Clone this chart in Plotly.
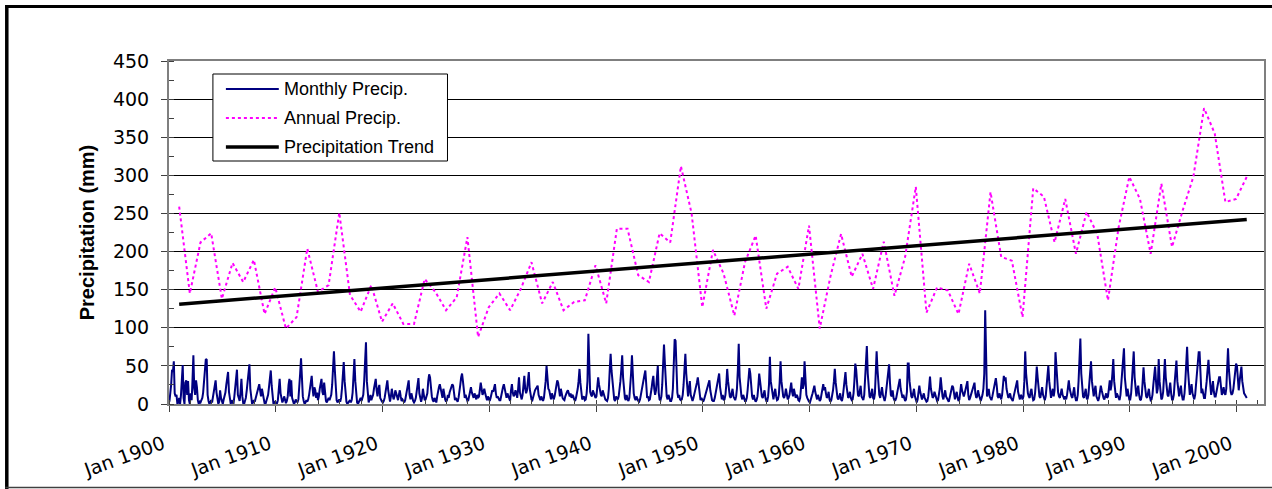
import plotly.graph_objects as go

# ---------------- data ----------------
years = list(range(1900, 2001))

# monthly precipitation (mm), one row per year Jan..Dec
monthly_rows = [
    [3, 12, 25, 45, 42, 56, 14, 10, 12, 0, 2, 8],        # 1900
    [0, 12, 30, 51, 8, 0, 28, 31, 12, 30, 5, 0],
    [14, 5, 30, 64, 20, 12, 31, 22, 5, 0, 3, 2],
    [5, 8, 15, 30, 45, 59, 58, 12, 4, 0, 2, 5],
    [2, 10, 20, 28, 31, 15, 6, 0, 3, 18, 8, 2],
    [0, 6, 10, 15, 25, 35, 42, 16, 3, 0, 5, 2],
    [0, 10, 22, 38, 45, 12, 8, 4, 16, 33, 10, 1],
    [0, 3, 8, 18, 30, 45, 52, 20, 7, 0, 2, 5],
    [3, 8, 14, 20, 22, 26, 18, 10, 20, 14, 4, 1],
    [0, 5, 10, 12, 22, 30, 44, 24, 8, 0, 2, 3],
    [0, 1, 5, 22, 33, 14, 6, 2, 5, 10, 6, 1],            # 1910
    [4, 10, 25, 33, 10, 31, 8, 3, 0, 2, 6, 4],
    [2, 6, 18, 40, 60, 30, 10, 4, 0, 2, 5, 3],
    [6, 12, 20, 30, 37, 20, 10, 22, 18, 8, 15, 5],
    [10, 20, 28, 33, 16, 12, 28, 10, 4, 2, 6, 8],
    [5, 8, 12, 25, 50, 69, 45, 12, 5, 2, 4, 6],
    [3, 8, 20, 38, 55, 30, 10, 3, 0, 2, 4, 5],
    [2, 6, 15, 35, 59, 30, 8, 2, 0, 3, 5, 8],
    [4, 8, 12, 30, 50, 81, 30, 10, 2, 6, 12, 5],
    [8, 12, 20, 30, 33, 18, 10, 20, 25, 8, 5, 3],
    [2, 4, 8, 15, 25, 31, 18, 8, 3, 10, 20, 12],         # 1920
    [6, 10, 18, 14, 8, 5, 12, 18, 10, 4, 6, 3],
    [2, 5, 10, 18, 22, 31, 12, 6, 14, 8, 4, 2],
    [4, 8, 15, 26, 34, 14, 6, 3, 8, 20, 12, 5],
    [6, 10, 14, 30, 39, 35, 20, 10, 5, 3, 8, 4],
    [2, 10, 18, 22, 26, 20, 12, 8, 20, 12, 6, 3],
    [5, 12, 8, 15, 20, 22, 26, 24, 10, 5, 8, 4],
    [3, 8, 14, 25, 35, 40, 30, 16, 8, 12, 6, 4],
    [5, 10, 18, 22, 15, 12, 8, 14, 10, 6, 12, 8],
    [10, 18, 28, 20, 12, 15, 20, 14, 8, 5, 10, 6],
    [4, 8, 12, 18, 16, 22, 26, 14, 8, 10, 6, 5],         # 1930
    [5, 12, 18, 22, 26, 20, 12, 8, 14, 10, 6, 4],
    [18, 26, 15, 10, 12, 18, 14, 8, 20, 35, 15, 8],
    [6, 12, 25, 37, 20, 14, 18, 30, 42, 20, 10, 6],
    [5, 10, 14, 18, 20, 22, 24, 12, 8, 5, 10, 6],
    [4, 8, 18, 30, 50, 35, 20, 18, 10, 6, 14, 8],
    [6, 10, 16, 24, 31, 28, 14, 10, 20, 12, 8, 6],
    [5, 10, 14, 16, 18, 12, 10, 14, 8, 12, 10, 6],
    [4, 8, 12, 20, 30, 46, 28, 14, 6, 8, 10, 5],
    [6, 14, 30, 92, 30, 16, 12, 10, 18, 14, 10, 8],
    [10, 20, 35, 25, 16, 12, 10, 18, 14, 8, 6, 5],       # 1940
    [4, 8, 20, 45, 66, 44, 30, 12, 6, 4, 10, 8],
    [6, 10, 18, 30, 45, 64, 35, 16, 8, 5, 12, 6],
    [4, 8, 20, 40, 64, 31, 14, 8, 5, 10, 6, 4],
    [3, 6, 12, 20, 25, 30, 38, 44, 20, 8, 10, 5],
    [6, 12, 20, 30, 37, 20, 12, 18, 35, 50, 15, 6],
    [5, 10, 25, 50, 78, 53, 20, 10, 6, 12, 8, 4],
    [4, 8, 20, 45, 85, 83, 40, 15, 8, 12, 6, 5],
    [6, 12, 25, 45, 66, 40, 18, 10, 20, 30, 12, 6],
    [4, 8, 12, 18, 22, 28, 35, 25, 10, 5, 8, 4],
    [3, 6, 10, 15, 20, 25, 28, 31, 18, 8, 5, 4],         # 1950
    [4, 8, 14, 20, 28, 35, 40, 22, 10, 6, 12, 5],
    [6, 12, 25, 46, 30, 18, 10, 8, 14, 20, 10, 6],
    [5, 10, 20, 45, 79, 35, 16, 10, 6, 12, 8, 4],
    [4, 8, 18, 35, 47, 40, 18, 10, 6, 12, 6, 3],
    [5, 10, 22, 40, 30, 16, 10, 8, 12, 18, 8, 4],
    [4, 10, 25, 62, 30, 20, 10, 6, 14, 20, 10, 5],
    [6, 12, 28, 56, 30, 18, 10, 8, 12, 20, 14, 6],
    [8, 12, 20, 28, 16, 10, 20, 14, 8, 12, 10, 5],
    [4, 8, 20, 35, 20, 25, 56, 30, 12, 8, 5, 3],
    [2, 5, 10, 14, 18, 24, 16, 10, 6, 12, 8, 4],         # 1960
    [6, 12, 20, 26, 18, 22, 14, 8, 10, 16, 6, 3],
    [5, 10, 18, 30, 46, 28, 12, 8, 6, 10, 14, 6],
    [4, 10, 20, 32, 42, 25, 12, 8, 10, 16, 8, 5],
    [6, 14, 30, 53, 45, 25, 12, 10, 18, 24, 10, 6],
    [5, 12, 30, 55, 76, 40, 18, 10, 8, 14, 20, 8],
    [6, 14, 35, 69, 45, 22, 12, 8, 15, 22, 12, 6],
    [4, 10, 20, 30, 40, 52, 28, 12, 10, 18, 8, 5],
    [5, 8, 14, 22, 28, 33, 20, 10, 8, 12, 6, 4],
    [6, 16, 53, 53, 30, 15, 10, 8, 14, 20, 10, 6],
    [2, 6, 12, 24, 16, 10, 6, 10, 14, 8, 5, 3],          # 1970
    [4, 10, 22, 36, 20, 12, 8, 10, 16, 12, 6, 4],
    [5, 12, 20, 35, 18, 10, 6, 12, 18, 10, 8, 5],
    [3, 8, 14, 18, 24, 22, 10, 6, 12, 16, 8, 4],
    [6, 14, 26, 18, 12, 10, 14, 20, 25, 30, 12, 5],
    [8, 12, 16, 20, 24, 28, 14, 8, 10, 18, 12, 6],
    [4, 8, 12, 20, 40, 123, 30, 10, 14, 20, 10, 6],
    [5, 10, 15, 20, 28, 34, 24, 10, 8, 14, 10, 6],
    [12, 25, 37, 30, 35, 20, 12, 8, 10, 14, 8, 5],
    [4, 10, 16, 20, 25, 31, 16, 8, 6, 12, 10, 6],
    [10, 30, 69, 40, 25, 14, 10, 8, 16, 20, 10, 5],      # 1980
    [6, 14, 28, 49, 35, 18, 10, 8, 14, 22, 12, 6],
    [5, 10, 22, 38, 50, 30, 12, 8, 14, 20, 10, 18],
    [68, 46, 25, 15, 10, 8, 14, 20, 12, 8, 6, 10],
    [6, 12, 22, 31, 20, 14, 10, 8, 16, 22, 10, 5],
    [5, 12, 30, 55, 86, 40, 18, 10, 8, 14, 20, 8],
    [6, 12, 25, 40, 56, 30, 14, 10, 18, 24, 10, 5],
    [4, 8, 14, 24, 18, 12, 8, 6, 10, 14, 8, 10],
    [20, 31, 18, 25, 40, 59, 30, 12, 8, 14, 10, 6],
    [5, 12, 25, 45, 60, 73, 35, 14, 10, 20, 12, 6],
    [6, 14, 30, 50, 69, 35, 15, 10, 18, 24, 12, 6],      # 1990
    [5, 12, 28, 48, 30, 18, 10, 8, 14, 20, 10, 5],
    [6, 12, 25, 40, 49, 30, 14, 20, 59, 30, 12, 6],
    [8, 16, 35, 59, 35, 18, 12, 10, 20, 28, 14, 6],
    [6, 12, 28, 45, 57, 30, 14, 10, 18, 24, 12, 6],
    [6, 14, 30, 55, 75, 44, 20, 12, 18, 26, 14, 8],
    [6, 12, 25, 40, 55, 68, 68, 30, 14, 20, 12, 8],
    [8, 16, 30, 45, 58, 40, 18, 12, 20, 30, 16, 10],
    [10, 18, 25, 30, 35, 35, 20, 12, 16, 22, 14, 12],
    [20, 40, 73, 45, 25, 16, 12, 14, 20, 30, 40, 53],
    [50, 25, 18, 30, 40, 49, 30, 20, 14, 12, 10, 8],     # 2000
]

# annual precipitation (mm), 1900..2000
annual_precip = [
    259, 145, 212, 224, 138, 185, 160, 189, 118, 153,
    99, 114, 204, 147, 156, 251, 143, 121, 156, 108,
    132, 105, 105, 164, 147, 123, 140, 219, 88, 127,
    145, 123, 151, 186, 132, 160, 123, 134, 136, 182,
    132, 230, 230, 169, 160, 224, 212, 312, 250, 127,
    202, 171, 116, 186, 221, 125, 171, 180, 151, 234,
    99, 167, 223, 167, 197, 151, 213, 142, 193, 285,
    120, 153, 149, 118, 184, 145, 278, 193, 188, 114,
    283, 272, 212, 269, 197, 252, 223, 136, 232, 298,
    269, 197, 289, 206, 254, 298, 388, 355, 265, 269,
    298,
]

# linear trend end points (first and last year)
trend_years = [1900, 2000]
trend_values = [131, 242]

y_ticks = [0, 50, 100, 150, 200, 250, 300, 350, 400, 450]

legend_labels = ["Monthly Precip.", "Annual Precip.", "Precipitation Trend"]

# ---------------- build ----------------
monthly_x = []
monthly_y = []
for yr, row in zip(years, monthly_rows):
    for m, v in enumerate(row):
        monthly_x.append(f"{yr}-{m + 1:02d}-15")
        monthly_y.append(v)

annual_x = [f"{yr}-12-15" for yr in years]
trend_x = [f"{yr}-12-15" for yr in trend_years]

NAVY = "#000080"
MAGENTA = "#FF00FF"
TICKFONT = dict(size=19, family="DejaVu Sans", color="black")

fig = go.Figure()
fig.add_trace(go.Scatter(x=monthly_x, y=monthly_y, mode="lines",
                         line=dict(color=NAVY, width=2), name=legend_labels[0]))
fig.add_trace(go.Scatter(x=annual_x, y=annual_precip, mode="lines",
                         line=dict(color=MAGENTA, width=2, dash="dot"), name=legend_labels[1]))
fig.add_trace(go.Scatter(x=trend_x, y=trend_values, mode="lines",
                         line=dict(color="black", width=3.5), name=legend_labels[2]))

W, H = 1272, 489
L, R, T, B = 169, 1266, 61, 404   # plot area in pixels


def px(x):
    return (x - L) / (R - L)


def py(y):
    return (B - y) / (B - T)


shapes = []
annotations = []

# custom legend box
shapes.append(dict(type="rect", xref="paper", yref="paper",
                   x0=px(213), x1=px(448), y0=py(161), y1=py(74),
                   line=dict(color="black", width=1), fillcolor="white", layer="above"))
legend_styles = [dict(color=NAVY, width=1.8),
                 dict(color=MAGENTA, width=2, dash="dot"),
                 dict(color="black", width=3.5)]
for i, (lab, st) in enumerate(zip(legend_labels, legend_styles)):
    yy = 89 + 29 * i
    shapes.append(dict(type="line", xref="paper", yref="paper",
                       x0=px(226), x1=px(279), y0=py(yy), y1=py(yy),
                       line=st, layer="above"))
    annotations.append(dict(xref="paper", yref="paper", x=px(282), y=py(yy),
                            xanchor="left", yanchor="middle", text=lab, showarrow=False,
                            font=dict(family="Liberation Sans, Arial", size=18, color="black")))

# outer frame of the chart
shapes.append(dict(type="line", xref="paper", yref="paper",
                   x0=px(5), x1=px(1275), y0=py(6.5), y1=py(6.5),
                   line=dict(color="black", width=3)))
shapes.append(dict(type="line", xref="paper", yref="paper",
                   x0=px(6.5), x1=px(6.5), y0=py(5), y1=py(492),
                   line=dict(color="black", width=3.5)))
shapes.append(dict(type="line", xref="paper", yref="paper",
                   x0=px(5), x1=px(1275), y0=py(487.5), y1=py(487.5),
                   line=dict(color="#404040", width=1.5)))

fig.update_layout(
    width=W, height=H,
    margin=dict(l=L, r=W - R, t=T, b=H - B, pad=0),
    paper_bgcolor="white", plot_bgcolor="white",
    showlegend=False,
    font=dict(family="Liberation Sans, Arial", color="black", size=20),
    shapes=shapes, annotations=annotations,
)

fig.update_xaxes(
    type="date",
    range=["1900-01-01", "2002-07-28"],
    tick0="1900-01-01", dtick="M120", tickformat="%b %Y",
    tickangle=-20,
    ticks="outside", ticklen=6, tickcolor="#404040", tickwidth=1.3,
    minor=dict(dtick="M24", tick0="1900-01-01", ticks="inside", ticklen=4,
               tickcolor="#404040", showgrid=False),
    showgrid=False,
    showline=True, linecolor="#7f7f7f", linewidth=2, mirror=True,
    tickfont=TICKFONT,
    ticklabelstandoff=14,
    ticklabelshift=-6,
    zeroline=False,
)

fig.update_yaxes(
    range=[0, 450], tickvals=y_ticks,
    ticks="outside", ticklen=6, tickcolor="#404040", tickwidth=1.3,
    minor=dict(dtick=25, tick0=0, ticks="inside", ticklen=5, tickcolor="#404040", showgrid=False),
    showgrid=True, gridcolor="black", gridwidth=1,
    showline=True, linecolor="#7f7f7f", linewidth=2, mirror=True,
    tickfont=TICKFONT,
    ticklabelstandoff=8,
    zeroline=False,
    title=dict(text="<b>Precipitation (mm)</b>", standoff=13,
               font=dict(size=20, family="Liberation Sans, Arial", color="black")),
)

fig.write_html("out.html")
